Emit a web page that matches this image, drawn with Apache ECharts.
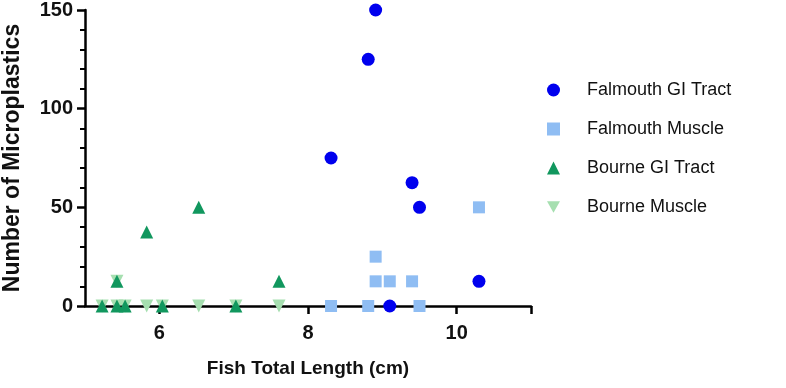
<!DOCTYPE html>
<html>
<head>
<meta charset="utf-8">
<script src="https://cdn.jsdelivr.net/npm/echarts@6/dist/echarts.min.js"></script>
<style>
  html, body { margin: 0; padding: 0; background: #fff; }
  #chart { width: 786px; height: 388px; }
</style>
</head>
<body>
<div id="chart"></div>
<script>
// fish length (cm), microplastic counts
const falmouthGI = [[8.91, 150], [8.81, 125], [8.31, 75], [9.4, 62.5], [9.5, 50], [10.3, 12.5], [9.1, 0]]
const falmouthMuscle = [[8.31, 0], [8.81, 0], [8.91, 25], [8.91, 12.5], [9.1, 12.5], [9.4, 12.5], [9.5, 0], [10.3, 50]]
const bourneGI = [[5.23, 0], [5.43, 12.5], [5.43, 0], [5.54, 0], [5.83, 37.5], [6.04, 0], [6.53, 50], [7.03, 0], [7.61, 12.5]]
const bourneMuscle = [[5.23, 0], [5.43, 12.5], [5.43, 0], [5.54, 0], [5.83, 0], [6.04, 0], [6.53, 0], [7.03, 0], [7.61, 0]]
const xTicks = [6, 8, 10, 11]
const xLabels = [6, 8, 10]

const font = 'Liberation Sans, Arial, sans-serif'
const chart = echarts.init(document.getElementById('chart'))

function scatter (name, data, symbol, color, size, rotate) {
  return {
    name: name,
    type: 'scatter',
    data: data,
    symbol: symbol,
    symbolSize: size,
    symbolRotate: rotate || 0,
    itemStyle: { color: color, opacity: 1 }
  }
}

chart.setOption({
  animation: false,
  grid: { left: 85, right: 255, top: 10, bottom: 82, outerBoundsMode: 'none', containLabel: false },
  legend: {
    orient: 'vertical',
    left: 542,
    top: 76,
    itemWidth: 13,
    itemHeight: 13,
    itemGap: 21,
    textStyle: { fontFamily: font, fontSize: 18, color: '#111', padding: [0, 0, 0, 22] },
    data: [
      { name: 'Falmouth GI Tract', icon: 'circle' },
      { name: 'Falmouth Muscle', icon: 'rect' },
      { name: 'Bourne GI Tract', icon: 'triangle' },
      { name: 'Bourne Muscle', icon: 'path://M0,0 L10,0 L5,9 Z' }
    ]
  },
  xAxis: {
    type: 'value',
    min: 5,
    max: 11,
    name: 'Fish Total Length (cm)',
    nameLocation: 'middle',
    nameGap: 53,
    nameTextStyle: { fontFamily: font, fontSize: 19, fontWeight: 'bold', color: '#111' },
    axisLine: { onZero: false, lineStyle: { color: '#000', width: 2.5 } },
    axisTick: { show: true, length: 8, lineStyle: { color: '#000', width: 2.5 }, customValues: xTicks },
    axisLabel: { fontFamily: font, fontSize: 20, fontWeight: 'bold', color: '#111', margin: 17, customValues: xLabels },
    splitLine: { show: false }
  },
  yAxis: {
    type: 'value',
    min: 0,
    max: 150,
    interval: 50,
    name: 'Number of Microplastics',
    nameLocation: 'middle',
    nameGap: 61,
    nameTextStyle: { fontFamily: font, fontSize: 23, fontWeight: 'bold', color: '#111' },
    axisLine: { show: true, lineStyle: { color: '#000', width: 2.5 } },
    axisTick: { show: true, length: 8, lineStyle: { color: '#000', width: 2.5 } },
    minorTick: { show: true, splitNumber: 5, length: 5, lineStyle: { color: '#000', width: 2 } },
    axisLabel: { fontFamily: font, fontSize: 20, fontWeight: 'bold', color: '#111', margin: 12 },
    splitLine: { show: false }
  },
  series: [
    scatter('Bourne Muscle', bourneMuscle, 'triangle', '#a6dfb0', 13, 180),
    scatter('Bourne GI Tract', bourneGI, 'triangle', '#11975e', 13),
    scatter('Falmouth Muscle', falmouthMuscle, 'rect', '#8fbdf3', 12),
    scatter('Falmouth GI Tract', falmouthGI, 'circle', '#0000ee', 13)
  ]
})
</script>
</body>
</html>
